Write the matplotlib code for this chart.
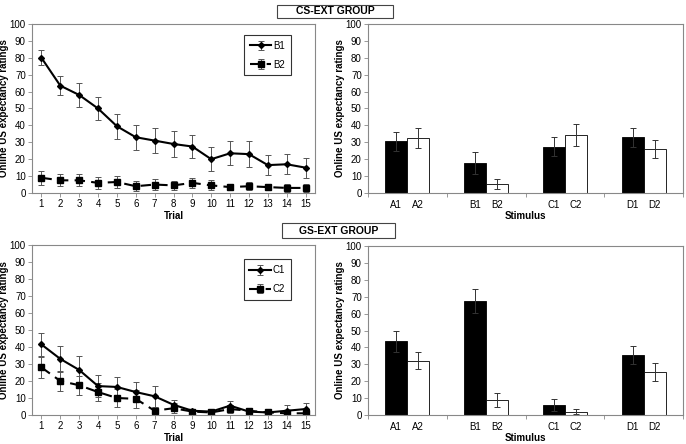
import numpy as np
import matplotlib.pyplot as plt
from matplotlib.patches import Rectangle

plt.rcParams['font.family'] = ['Liberation Sans', 'DejaVu Sans']

trials = np.arange(1, 16)

# CS-EXT group, trial-by-trial
b1 = [80, 63.5, 58, 50, 39.5, 33, 31, 29, 27.5, 20, 23.5, 23, 16.5, 17, 15]
b1_err = [4.5, 5.5, 7, 7, 7.5, 7.5, 7.5, 7.5, 7, 7, 7, 7.5, 6, 6, 6]
b2 = [9, 7.5, 7.5, 6, 6.5, 4, 5, 4.5, 6, 4.5, 3.5, 4, 3.5, 3, 3]
b2_err = [4, 3.5, 3.5, 3.5, 3.5, 3, 3, 2.5, 3, 3, 2, 2.5, 2, 2.5, 2.5]

# GS-EXT group, trial-by-trial
c1 = [41.5, 33, 26.5, 17, 16.5, 13.5, 11, 6, 2.5, 2, 5.5, 2, 1.5, 2.5, 3.5]
c1_err = [6.5, 7.5, 8, 6.5, 6, 6, 6, 3, 1, 1.5, 3, 1.5, 1, 3.5, 3.5]
c2 = [28, 20, 17.5, 13.5, 10, 9.5, 2.5, 4, 2, 1.5, 3.5, 2.5, 1.5, 1, 1]
c2_err = [6, 6, 5.5, 5.5, 5.5, 5.5, 2, 3, 1, 1, 2.5, 1.5, 1, 1, 1]

# test phase bars
groups = ['A', 'B', 'C', 'D']
cs_first = [30.5, 17.5, 27.5, 33]
cs_first_err = [5.5, 6.5, 5.5, 5.5]
cs_second = [32.5, 5.5, 34.5, 26]
cs_second_err = [6, 3, 6.5, 5.5]
gs_first = [43.5, 67.5, 6, 35.5]
gs_first_err = [6.5, 7, 3.5, 5.5]
gs_second = [32, 9, 2, 25.5]
gs_second_err = [5, 4, 1.5, 5.5]

fig = plt.figure(figsize=(6.86, 4.44), dpi=100)
W, H = 686, 444

def ax_at(x0, y0, x1, y1):
    return fig.add_axes([x0 / W, 1 - y1 / H, (x1 - x0) / W, (y1 - y0) / H])

def style(ax):
    for s in ax.spines.values():
        s.set_color('#888888')
        s.set_linewidth(0.8)
    ax.set_ylim(0, 100)
    ax.set_yticks(range(0, 101, 10))
    ax.tick_params(labelsize=7, length=3, width=0.6, color='#888888', pad=1.5)
    ax.set_ylabel('Online US expectancy ratings', fontsize=7, fontweight='bold', labelpad=0.5)

def line_panel(ax, y1, e1, y2, e2, names, leg_top):
    ax.errorbar(trials, y1, yerr=e1, color='black', lw=1.5, marker='D', ms=3,
                ecolor='#555555', elinewidth=0.7, capsize=2, capthick=0.7, label=names[0])
    ax.errorbar(trials, y2, yerr=e2, color='black', lw=1.5, ls=(0, (5, 3)), marker='s', ms=5,
                ecolor='#555555', elinewidth=0.7, capsize=2, capthick=0.7, label=names[1])
    ax.set_xlim(0.5, 15.5)
    ax.set_xticks(trials)
    style(ax)
    ax.set_xlabel('Trial', fontsize=7, fontweight='bold', labelpad=1)
    leg = ax.legend(loc='upper right', bbox_to_anchor=(0.915, leg_top), fontsize=7, frameon=True,
                    fancybox=False, edgecolor='black', handlelength=2.2, labelspacing=0.9,
                    borderpad=0.6, handletextpad=0.2, borderaxespad=0)
    leg.get_frame().set_linewidth(0.8)

def bar_panel(ax, v1, e1, v2, e2):
    pos = np.arange(len(groups)) + 0.5
    w = 0.28
    ax.bar(pos - w / 2, v1, w, yerr=e1, color='black', edgecolor='black', lw=0.6,
           error_kw=dict(ecolor='#333333', elinewidth=0.7, capsize=2, capthick=0.7))
    ax.bar(pos + w / 2, v2, w, yerr=e2, color='white', edgecolor='black', lw=0.6,
           error_kw=dict(ecolor='#333333', elinewidth=0.7, capsize=2, capthick=0.7))
    ax.set_xlim(0, len(groups))
    ax.set_xticks(np.arange(len(groups) + 1))
    ax.set_xticklabels([])
    ax.set_xticks(np.concatenate([pos - w / 2, pos + w / 2]), minor=True)
    ax.set_xticklabels([g + '1' for g in groups] + [g + '2' for g in groups], minor=True)
    style(ax)
    ax.tick_params(axis='x', which='minor', length=0, labelsize=7, pad=5)
    ax.set_xlabel('Stimulus', fontsize=7, fontweight='bold', labelpad=1)

ax1 = ax_at(32, 24, 315, 193)
line_panel(ax1, b1, b1_err, b2, b2_err, ['B1', 'B2'], 0.935)
ax2 = ax_at(368, 24, 683, 193)
bar_panel(ax2, cs_first, cs_first_err, cs_second, cs_second_err)
ax3 = ax_at(32, 245, 315, 415)
line_panel(ax3, c1, c1_err, c2, c2_err, ['C1', 'C2'], 0.915)
ax4 = ax_at(368, 246, 683, 415)
bar_panel(ax4, gs_first, gs_first_err, gs_second, gs_second_err)

for label, (x0, y0, x1, y1) in [('CS-EXT GROUP', (277, 5, 393, 18)),
                                 ('GS-EXT GROUP', (282, 223, 395, 238))]:
    fig.add_artist(Rectangle((x0 / W, 1 - y1 / H), (x1 - x0) / W, (y1 - y0) / H,
                             transform=fig.transFigure, fc='white', ec='#444444', lw=0.8))
    fig.text((x0 + x1) / 2 / W, 1 - (y0 + y1) / 2 / H, label, ha='center', va='center',
             fontsize=7.5, fontweight='bold')

fig.savefig('out.png', dpi=100)
